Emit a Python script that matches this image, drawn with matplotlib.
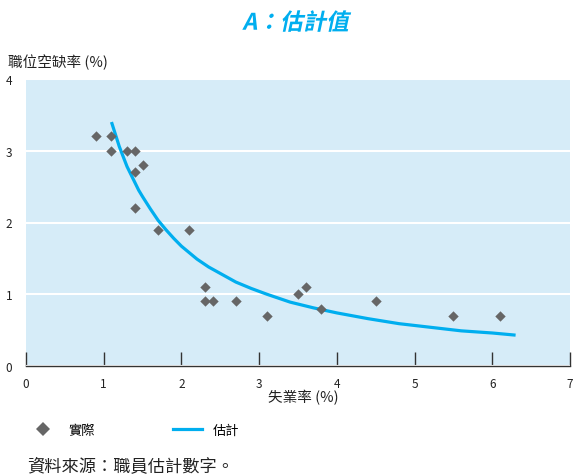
import matplotlib
matplotlib.use("Agg")
from matplotlib import pyplot as plt
from matplotlib.lines import Line2D
from matplotlib.textpath import TextPath
from matplotlib.patches import PathPatch
from matplotlib.font_manager import FontProperties
import matplotlib.transforms as mtransforms

plt.rcParams['font.family'] = ['Noto Sans CJK TC', 'DejaVu Sans']

# 實際數據：失業率 (%) 與職位空缺率 (%)
actual_x = [0.9, 1.1, 1.1, 1.3, 1.4, 1.4, 1.5, 1.4, 1.7, 2.1, 2.3, 2.3, 2.4,
            2.7, 3.1, 3.5, 3.6, 3.8, 4.5, 5.5, 6.1]
actual_y = [3.2, 3.2, 3.0, 3.0, 3.0, 2.7, 2.8, 2.2, 1.9, 1.9, 1.1, 0.9, 0.9,
            0.9, 0.7, 1.0, 1.1, 0.8, 0.9, 0.7, 0.7]

# 估計曲線
est_x = [1.10, 1.15, 1.20, 1.25, 1.30, 1.35, 1.40, 1.45, 1.50, 1.60, 1.70,
         1.80, 1.90, 2.00, 2.10, 2.20, 2.35, 2.50, 2.70, 2.90, 3.10, 3.40,
         3.70, 4.00, 4.40, 4.80, 5.20, 5.60, 6.00, 6.30]
est_y = [3.40, 3.23, 3.06, 2.92, 2.78, 2.67, 2.56, 2.45, 2.36, 2.19, 2.03,
         1.90, 1.78, 1.67, 1.58, 1.49, 1.38, 1.29, 1.17, 1.08, 1.00, 0.89,
         0.81, 0.74, 0.66, 0.59, 0.54, 0.49, 0.46, 0.43]

x_ticks = [0, 1, 2, 3, 4, 5, 6, 7]
y_ticks = [0, 1, 2, 3, 4]

blue = "#00aeef"
grey = "#666666"
dpi = 100

fig = plt.figure(figsize=(5.74, 4.77), dpi=dpi)
ax = fig.add_axes([26 / 574, 110 / 477, 544 / 574, 287 / 477])
ax.set_facecolor("#d6ecf8")

ax.set_xlim(0, 7)
ax.set_ylim(0, 4)
ax.set_xticks(x_ticks)
ax.set_yticks(y_ticks)
ax.yaxis.grid(True, color="white", lw=1.5)
ax.set_axisbelow(True)

for side in ["top", "right", "left"]:
    ax.spines[side].set_visible(False)
ax.spines["bottom"].set_color("#333333")
ax.spines["bottom"].set_linewidth(1.0)

ax.tick_params(axis="x", direction="in", length=10, width=1, color="#333333",
               labelsize=8.5, labelcolor="#222222", pad=8)
ax.tick_params(axis="y", length=0, labelsize=8.5, labelcolor="#222222", pad=10)

ax.plot(est_x, est_y, color=blue, lw=2.3, zorder=2, solid_joinstyle="round",
        solid_capstyle="butt")
ax.scatter(actual_x, actual_y, marker="D", s=28, color=grey, zorder=3,
           linewidths=0)

# 標題：CJK 字體沒有斜體，用斜切變換的文字路徑代替
title_fp = FontProperties(family="Noto Sans CJK TC", weight="bold")
title_px = 16.5 * dpi / 72
title_path = TextPath((0, 0), "A：估計值", size=title_px, prop=title_fp)
ext = title_path.get_extents()
cx, cy = 297, 477 - 22
title_tf = (mtransforms.Affine2D()
            .translate(-(ext.x0 + ext.x1) / 2, -(ext.y0 + ext.y1) / 2)
            .skew_deg(12, 0)
            .translate(cx, cy))
fig.add_artist(PathPatch(title_path, transform=title_tf, facecolor=blue,
                         edgecolor="none"))

fig.text(8 / 574, 1 - 62 / 477, "職位空缺率 (%)", ha="left", va="center",
         fontsize=10.5, color="#222222")
fig.text(303 / 574, 1 - 398 / 477, "失業率 (%)", ha="center", va="center",
         fontsize=10.5, color="#222222")

handles = [
    Line2D([], [], marker="D", ls="none", color=grey, markersize=7,
           markeredgewidth=0, label="實際"),
    Line2D([], [], color=blue, lw=2.3, label="估計"),
]
fig.legend(handles=handles, loc="center left",
           bbox_to_anchor=(17 / 574, 1 - 431 / 477),
           ncol=2, frameon=False, fontsize=9.5, columnspacing=5.9,
           handlelength=2.2, handletextpad=0.8)

fig.text(27 / 574, 1 - 466 / 477, "資料來源：職員估計數字。", ha="left",
         va="center", fontsize=12.4, color="#222222")

fig.savefig("out.png", dpi=dpi)
